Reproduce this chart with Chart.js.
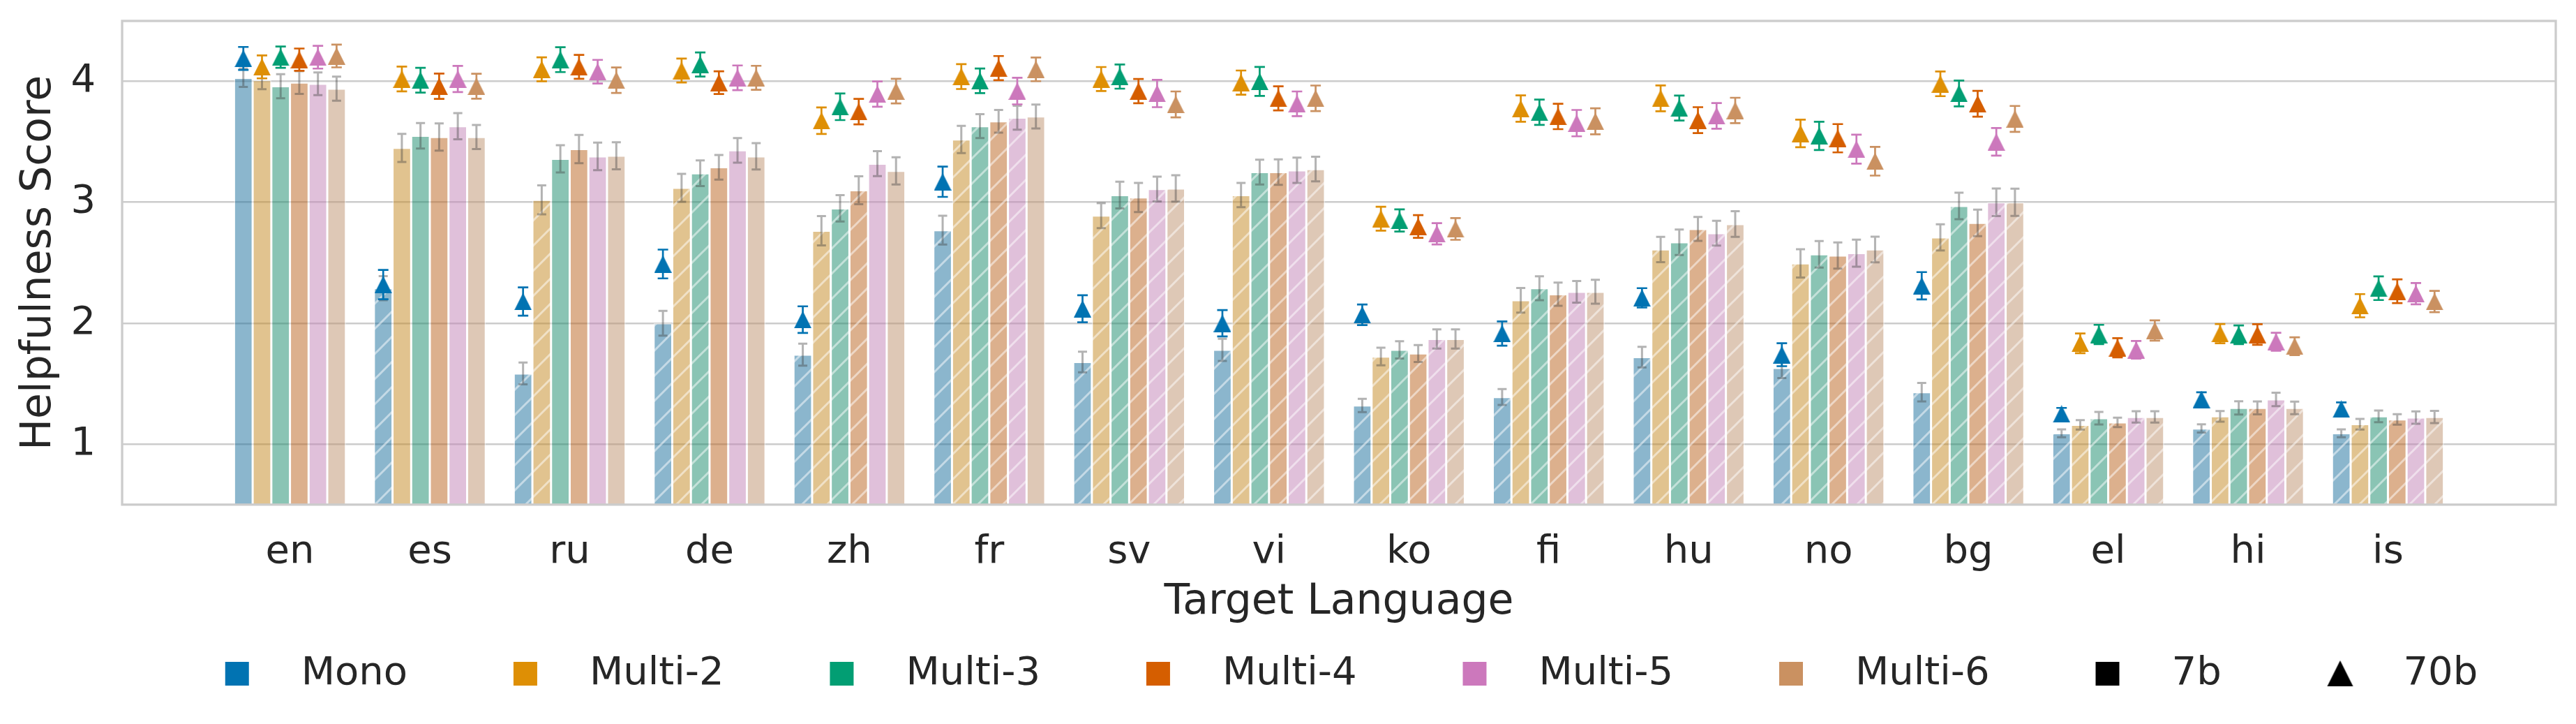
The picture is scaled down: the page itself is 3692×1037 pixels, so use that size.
<!DOCTYPE html>
<html>
<head>
<meta charset="utf-8">
<script src="https://cdn.jsdelivr.net/npm/chart.js@4.4.1/dist/chart.umd.min.js"></script>
<style>
  html, body { margin: 0; padding: 0; background: #ffffff; }
  canvas { display: block; }
</style>
</head>
<body>
<canvas id="chart" width="3692" height="1037"></canvas>
<script>
// categories
const langs = ['en', 'es', 'ru', 'de', 'zh', 'fr', 'sv', 'vi', 'ko', 'fi', 'hu', 'no', 'bg', 'el', 'hi', 'is'];
const modelNames = ['Mono', 'Multi-2', 'Multi-3', 'Multi-4', 'Multi-5', 'Multi-6'];
// how many of the languages above (in order) each model was trained on
const trainLangCount = [1, 2, 3, 4, 5, 6];
const yTicks = [1, 2, 3, 4];

// 7b scores (bars) and their CI half-widths
const mono7b   = [4.03, 2.29, 1.585, 2.00, 1.74, 2.77, 1.68, 1.78, 1.32, 1.39, 1.72, 1.63, 1.43, 1.09, 1.13, 1.09];
const multi2_7b = [4.01, 3.45, 3.02, 3.12, 2.765, 3.52, 2.89, 3.06, 1.725, 2.19, 2.61, 2.495, 2.71, 1.16, 1.23, 1.165];
const multi3_7b = [3.96, 3.55, 3.36, 3.24, 2.95, 3.63, 3.06, 3.25, 1.78, 2.29, 2.67, 2.57, 2.97, 1.215, 1.30, 1.23];
const multi4_7b = [3.99, 3.54, 3.44, 3.29, 3.10, 3.67, 3.04, 3.25, 1.75, 2.24, 2.78, 2.56, 2.83, 1.18, 1.30, 1.205];
const multi5_7b = [3.98, 3.63, 3.38, 3.43, 3.32, 3.70, 3.11, 3.265, 1.87, 2.26, 2.745, 2.58, 3.00, 1.225, 1.37, 1.22];
const multi6_7b = [3.94, 3.54, 3.385, 3.38, 3.26, 3.71, 3.115, 3.275, 1.87, 2.26, 2.82, 2.61, 3.00, 1.225, 1.30, 1.225];

const mono7bErr   = [.076, .10, .09, .103, .091, .119, .085, .092, .055, .066, .085, .083, .076, .032, .034, .032];
const multi2_7bErr = [.074, .116, .12, .116, .121, .113, .103, .10, .073, .102, .105, .117, .108, .039, .044, .044];
const multi3_7bErr = [.10, .105, .113, .106, .109, .099, .11, .102, .072, .099, .105, .11, .11, .052, .055, .048];
const multi4_7bErr = [.094, .112, .117, .102, .116, .094, .121, .105, .07, .096, .099, .108, .11, .039, .054, .043];
const multi5_7bErr = [.094, .108, .114, .102, .103, .099, .103, .105, .08, .09, .103, .112, .114, .047, .055, .051];
const multi6_7bErr = [.10, .10, .112, .109, .112, .099, .109, .102, .08, .099, .106, .106, .113, .047, .052, .051];

// 70b scores (triangles) and their CI half-widths
const mono70b   = [4.19, 2.32, 2.18, 2.49, 2.03, 3.17, 2.12, 2.00, 2.07, 1.915, 2.21, 1.74, 2.31, 1.25, 1.37, 1.29];
const multi2_70b = [4.12, 4.02, 4.10, 4.09, 3.675, 4.04, 4.02, 3.99, 2.865, 3.775, 3.86, 3.57, 3.98, 1.834, 1.914, 2.145];
const multi3_70b = [4.20, 4.01, 4.18, 4.14, 3.79, 4.005, 4.04, 4.00, 2.85, 3.745, 3.78, 3.55, 3.90, 1.907, 1.905, 2.29];
const multi4_70b = [4.18, 3.96, 4.12, 3.99, 3.75, 4.11, 3.92, 3.86, 2.80, 3.71, 3.68, 3.53, 3.815, 1.797, 1.907, 2.265];
const multi5_70b = [4.20, 4.02, 4.08, 4.03, 3.895, 3.92, 3.90, 3.815, 2.74, 3.655, 3.715, 3.44, 3.50, 1.78, 1.847, 2.245];
const multi6_70b = [4.21, 3.96, 4.01, 4.03, 3.92, 4.10, 3.81, 3.86, 2.78, 3.67, 3.76, 3.34, 3.69, 1.94, 1.81, 2.18];

const mono70bErr   = [.095, .121, .117, .119, .11, .125, .112, .109, .085, .10, .08, .095, .113, .05, .059, .055];
const multi2_70bErr = [.095, .102, .099, .099, .11, .103, .099, .10, .099, .109, .107, .114, .102, .081, .079, .096];
const multi3_70bErr = [.088, .102, .103, .10, .11, .102, .10, .12, .092, .105, .103, .117, .107, .08, .077, .098];
const multi4_70bErr = [.092, .105, .099, .094, .105, .10, .10, .10, .094, .105, .107, .117, .107, .08, .085, .098];
const multi5_70bErr = [.094, .108, .098, .102, .105, .11, .113, .102, .088, .109, .106, .12, .114, .073, .074, .088];
const multi6_70bErr = [.094, .103, .105, .099, .102, .098, .107, .106, .09, .107, .105, .119, .107, .084, .074, .088];

const bars7b = [mono7b, multi2_7b, multi3_7b, multi4_7b, multi5_7b, multi6_7b];
const bars7bErr = [mono7bErr, multi2_7bErr, multi3_7bErr, multi4_7bErr, multi5_7bErr, multi6_7bErr];
const points70b = [mono70b, multi2_70b, multi3_70b, multi4_70b, multi5_70b, multi6_70b];
const points70bErr = [mono70bErr, multi2_70bErr, multi3_70bErr, multi4_70bErr, multi5_70bErr, multi6_70bErr];

// seaborn colorblind palette, and the desaturated version used for bars
const colors = ['#0173B2', '#DE8F05', '#029E73', '#D55E00', '#CC78BC', '#CA9161'];
const barRgb = ['23,109,156', '195,136,32', '22,138,106', '186,97,27', '194,130,182', '189,146,110'];
const textColor = '#262626';
const FONT = 'DejaVu Sans';
const groupWidth = 0.8;

Chart.defaults.font.family = FONT;
Chart.defaults.color = textColor;

function hatchPattern(rgb) {
  const s = 36;
  const cv = document.createElement('canvas');
  cv.width = s; cv.height = s;
  const g = cv.getContext('2d');
  g.fillStyle = `rgba(${rgb},0.5)`;
  g.fillRect(0, 0, s, s);
  g.strokeStyle = 'rgba(255,255,255,0.5)';
  g.lineWidth = 3;
  g.beginPath();
  g.moveTo(0, s); g.lineTo(s, 0);
  g.moveTo(-3, 3); g.lineTo(3, -3);
  g.moveTo(s - 3, s + 3); g.lineTo(s + 3, s - 3);
  g.stroke();
  return g.createPattern(cv, 'repeat');
}

function triangleImage(color, size) {
  const cv = document.createElement('canvas');
  cv.width = size; cv.height = size;
  const g = cv.getContext('2d');
  g.fillStyle = color;
  g.beginPath();
  g.moveTo(size / 2, 0); g.lineTo(size, size); g.lineTo(0, size);
  g.closePath(); g.fill();
  return cv;
}

// legend icon: blank lead, then marker, wide box so text sits well to the right
function legendIcon(color, shape) {
  const cv = document.createElement('canvas');
  cv.width = 117; cv.height = 38;
  const g = cv.getContext('2d');
  g.fillStyle = color;
  if (shape === 'tri') {
    g.beginPath();
    g.moveTo(36 + 18.5, 0); g.lineTo(73, 37); g.lineTo(36, 37);
    g.closePath(); g.fill();
  } else {
    g.fillRect(36, 2, 34, 34);
  }
  return cv;
}

const errorBars = {
  id: 'errorBars',
  afterDatasetDraw(chart, args) {
    const ds = chart.data.datasets[args.index];
    if (!ds.errors) return;
    const y = chart.scales.y;
    const c = chart.ctx;
    c.save();
    c.strokeStyle = ds.errorColor;
    c.lineWidth = ds.errorWidth;
    args.meta.data.forEach((el, j) => {
      const v = ds.data[j].y, e = ds.errors[j];
      const top = y.getPixelForValue(v + e), bot = y.getPixelForValue(v - e);
      const cap = ds.capHalf;
      c.beginPath();
      c.moveTo(el.x, top); c.lineTo(el.x, bot);
      c.moveTo(el.x - cap, top); c.lineTo(el.x + cap, top);
      c.moveTo(el.x - cap, bot); c.lineTo(el.x + cap, bot);
      c.stroke();
    });
    c.restore();
  }
};

const frame = {
  id: 'frame',
  afterDatasetsDraw(chart) {
    const a = chart.chartArea, c = chart.ctx;
    c.save();
    c.strokeStyle = '#cccccc';
    c.lineWidth = 3.3;
    c.strokeRect(a.left, a.top, a.right - a.left, a.bottom - a.top);
    c.restore();
  }
};

const datasets = [];
points70b.forEach((vals, k) => {
  const dodge = (k - 2.5) * groupWidth / modelNames.length;
  datasets.push({
    type: 'line',
    label: modelNames[k] + ' 70b',
    data: vals.map((v, i) => ({ x: i + dodge, y: v })),
    showLine: false,
    pointStyle: triangleImage(colors[k], 25),
    pointRadius: 12,
    borderColor: colors[k],
    backgroundColor: colors[k],
    errors: points70bErr[k],
    errorColor: colors[k],
    errorWidth: 2.7,
    capHalf: 7.5,
    order: 0
  });
});
bars7b.forEach((vals, k) => {
  const solid = `rgba(${barRgb[k]},0.5)`;
  const pattern = hatchPattern(barRgb[k]);
  datasets.push({
    type: 'bar',
    label: modelNames[k] + ' 7b',
    data: vals.map((v, i) => ({ x: i, y: v })),
    backgroundColor: (c) => c.dataIndex >= trainLangCount[k] ? pattern : solid,
    borderColor: 'rgba(255,255,255,0.5)',
    borderWidth: 1.5,
    categoryPercentage: groupWidth,
    barPercentage: 1.0,
    errors: bars7bErr[k],
    errorColor: 'rgba(64,64,64,0.4)',
    errorWidth: 3,
    capHalf: 6.5,
    order: 1
  });
});

const legendTexts = modelNames.concat(['7b', '70b']);
const legendColors = colors.concat(['#000000', '#000000']);

new Chart(document.getElementById('chart'), {
  type: 'bar',
  data: { datasets },
  plugins: [errorBars, frame],
  options: {
    responsive: false,
    animation: false,
    devicePixelRatio: 1,
    layout: { padding: { left: 0, right: 29, top: 30, bottom: 34 } },
    scales: {
      x: {
        type: 'linear',
        min: -1.2,
        max: 16.2,
        offset: false,
        grid: { display: false },
        border: { display: false },
        afterBuildTicks: (axis) => { axis.ticks = langs.map((_, i) => ({ value: i })); },
        ticks: {
          autoSkip: false,
          maxRotation: 0,
          padding: 27,
          font: { size: 56 },
          color: textColor,
          callback: (v) => langs[v]
        },
        title: {
          display: true,
          text: 'Target Language',
          font: { size: 60 },
          color: textColor,
          padding: { top: -25, bottom: 29 }
        }
      },
      y: {
        min: 0.5,
        max: 4.5,
        afterBuildTicks: (axis) => { axis.ticks = yTicks.map((v) => ({ value: v })); },
        afterFit: (axis) => { axis.paddingTop = 0; axis.paddingBottom = 0; },
        grid: { color: '#cccccc', lineWidth: 2.6, drawTicks: false },
        border: { display: false },
        ticks: {
          padding: 38,
          font: { size: 56, lineHeight: 1 },
          color: textColor,
          callback: (v) => String(v)
        },
        title: {
          display: true,
          text: 'Helpfulness Score',
          font: { size: 60 },
          color: textColor,
          padding: { top: 20, bottom: -28.6 }
        }
      }
    },
    plugins: {
      tooltip: { enabled: false },
      legend: {
        position: 'bottom',
        fullSize: false,
        labels: {
          usePointStyle: true,
          pointStyleWidth: 117,
          padding: 9,
          font: { size: 56 },
          color: textColor,
          generateLabels: () => legendTexts.map((t, k) => ({
            text: k < legendTexts.length - 1 ? t + '      ' : t,
            pointStyle: legendIcon(legendColors[k], t === '70b' ? 'tri' : 'rect'),
            fillStyle: legendColors[k],
            strokeStyle: legendColors[k],
            lineWidth: 0,
            hidden: false,
            fontColor: textColor
          }))
        }
      }
    }
  }
});
</script>
</body>
</html>
